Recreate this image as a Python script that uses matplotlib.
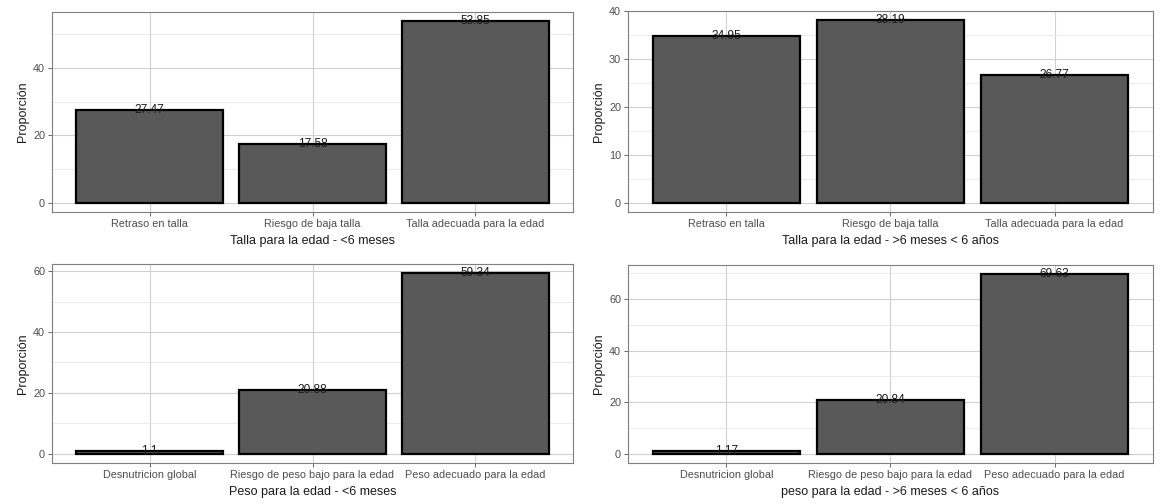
import matplotlib
matplotlib.use("Agg")
import matplotlib.pyplot as plt
import numpy as np

plt.rcParams["font.family"] = ["Liberation Sans", "DejaVu Sans"]

# Talla para la edad
talla_cats = ["Retraso en talla", "Riesgo de baja talla", "Talla adecuada para la edad"]
talla_menor6m = [27.47, 17.58, 53.85]
talla_mayor6m = [34.95, 38.19, 26.77]

# Peso para la edad
peso_cats = ["Desnutricion global", "Riesgo de peso bajo para la edad", "Peso adecuado para la edad"]
peso_menor6m = [1.1, 20.88, 59.34]
peso_mayor6m = [1.17, 20.84, 69.63]

panels = [
    # (left, top, right, bottom) in pixels, categories, values, xlabel, major step
    ((52, 12, 573, 212), talla_cats, talla_menor6m, "Talla para la edad - <6 meses", 20),
    ((628, 11, 1153, 212), talla_cats, talla_mayor6m, "Talla para la edad - >6 meses < 6 años", 10),
    ((52, 264, 573, 463), peso_cats, peso_menor6m, "Peso para la edad - <6 meses", 20),
    ((628, 265, 1153, 463), peso_cats, peso_mayor6m, "peso para la edad - >6 meses < 6 años", 20),
]

W, H = 1161, 504
fig = plt.figure(figsize=(W / 100, H / 100), dpi=100)

for (l, t, r, b), cats, vals, xlab, step in panels:
    ax = fig.add_axes([l / W, 1 - b / H, (r - l) / W, (b - t) / H])
    x = np.arange(len(cats))
    ax.bar(x, vals, width=0.9, color="#595959", edgecolor="black", linewidth=1.6, zorder=3)
    for xi, v in zip(x, vals):
        ax.text(xi, v, f"{v:g}", ha="center", va="center", fontsize=8.6, color="#1A1A1A", zorder=4)

    vmax = max(vals)
    ax.set_ylim(-0.05 * vmax, 1.05 * vmax)
    ax.set_xlim(-0.6, len(cats) - 0.4)
    ax.set_xticks(x)
    ax.set_xticklabels(cats)
    majors = np.arange(0, 1.05 * vmax, step)
    minors = np.arange(step / 2, 1.05 * vmax, step)
    ax.set_yticks(majors)
    ax.set_yticks(minors, minor=True)
    ax.yaxis.set_major_formatter(matplotlib.ticker.FuncFormatter(lambda v, _: f"{int(v)}"))

    ax.grid(True, which="major", color="#D0D0D0", linewidth=0.8, zorder=0)
    ax.grid(True, which="minor", axis="y", color="#E6E6E6", linewidth=0.6, zorder=0)
    ax.set_axisbelow(True)
    ax.tick_params(axis="both", which="major", labelsize=7.8, colors="#4D4D4D",
                   length=3, width=0.6, pad=2)
    ax.tick_params(axis="y", which="minor", length=0)
    for s in ax.spines.values():
        s.set_color("#7F7F7F")
        s.set_linewidth(0.8)

    ax.set_xlabel(xlab, fontsize=9, labelpad=4, color="#1A1A1A")
    ax.set_ylabel("Proporción", fontsize=9, labelpad=3, color="#1A1A1A")

fig.savefig("out.png", dpi=100)
